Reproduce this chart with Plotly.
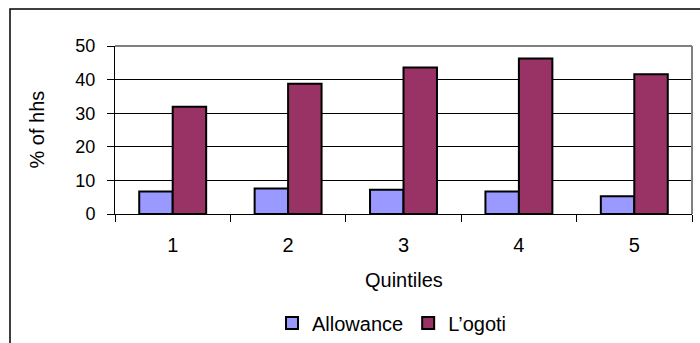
import plotly.graph_objects as go

# Share of households receiving each transfer, by consumption quintile
quintiles = ["1", "2", "3", "4", "5"]
allowance = [6.7, 7.6, 7.2, 6.7, 5.3]
logoti = [31.9, 38.8, 43.6, 46.3, 41.6]
y_ticks = [0, 10, 20, 30, 40, 50]

FONT = "Liberation Sans, Arial, sans-serif"

fig = go.Figure()
fig.add_trace(go.Bar(
    x=quintiles, y=allowance, name="Allowance",
    marker=dict(color="#9999FF", line=dict(color="#000000", width=2)),
))
fig.add_trace(go.Bar(
    x=quintiles, y=logoti, name="L\u2019ogoti",
    marker=dict(color="#993366", line=dict(color="#000000", width=2)),
))

W, H = 700, 343
ml, mr, mt, mb = 115, 8, 46, 129
plot_h = H - mt - mb
plot_w = W - ml - mr

def px_to_paper_y(py):
    return (H - mb - py) / plot_h

def px_to_paper_x(px):
    return (px - ml) / plot_w

fig.update_layout(
    width=W, height=H,
    margin=dict(l=ml, r=mr, t=mt, b=mb, autoexpand=False),
    paper_bgcolor="white", plot_bgcolor="white",
    barmode="group", bargap=0.42, bargroupgap=0,
    font=dict(family=FONT, size=19, color="#000000"),
    showlegend=True,
    legend=dict(
        orientation="h", x=px_to_paper_x(392), xanchor="center",
        yref="container", y=(H - 323) / H, yanchor="middle",
        font=dict(family=FONT, size=20, color="#000000"),
        itemclick=False, traceorder="normal",
    ),
    xaxis=dict(
        type="category", tickson="boundaries",
        ticks="outside", ticklen=7, tickcolor="#000000", tickwidth=1,
        showline=True, linecolor="#000000", linewidth=1,
        showgrid=False, ticklabelstandoff=13, automargin=False,
        tickfont=dict(family=FONT, size=20),
    ),
    yaxis=dict(
        range=[0, 50], tickvals=y_ticks,
        ticks="outside", ticklen=7, tickcolor="#000000", tickwidth=1,
        showline=True, linecolor="#000000", linewidth=1,
        showgrid=True, gridcolor="#000000", gridwidth=1,
        zeroline=False, ticklabelstandoff=8, automargin=False,
        tickfont=dict(family=FONT, size=18),
    ),
    annotations=[
        dict(text="Quintiles", xref="paper", yref="paper",
             x=0.5, y=px_to_paper_y(280), xanchor="center", yanchor="middle",
             showarrow=False, font=dict(family=FONT, size=20)),
        dict(text="% of hhs", xref="paper", yref="paper",
             x=px_to_paper_x(36.5), y=0.5, xanchor="center", yanchor="middle",
             textangle=-90, showarrow=False, font=dict(family=FONT, size=20)),
    ],
    shapes=[
        # grey plot-area border on the top and right
        dict(type="line", xref="paper", yref="paper", x0=0, x1=1, y0=1, y1=1,
             line=dict(color="#808080", width=2)),
        dict(type="line", xref="paper", yref="paper", x0=1, x1=1, y0=0, y1=1,
             line=dict(color="#808080", width=2)),
        # outer chart frame
        dict(type="rect", xref="paper", yref="paper",
             x0=px_to_paper_x(10), x1=px_to_paper_x(760),
             y0=px_to_paper_y(400), y1=px_to_paper_y(9),
             line=dict(color="#000000", width=1.5)),
    ],
)

fig.write_html("out.html")
